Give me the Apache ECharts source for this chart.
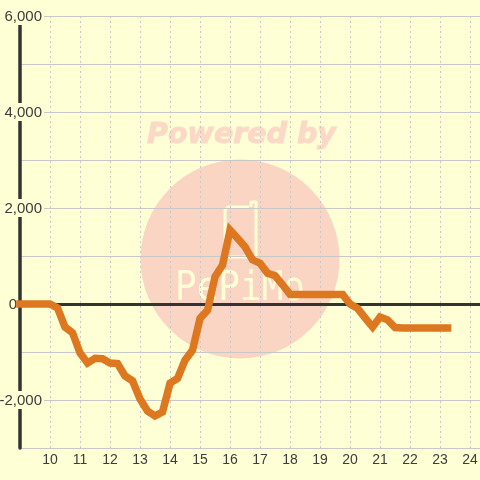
<!DOCTYPE html>
<html><head><meta charset="utf-8">
<style>html,body{margin:0;padding:0;background:#ffffd5}#c{width:480px;height:480px}</style>
<script src="https://cdn.jsdelivr.net/npm/echarts@6/dist/echarts.min.js"></script>
</head><body><div id="c"></div>
<script>
const xValues = [9,9.25,9.5,9.75,10,10.25,10.5,10.75,11,11.25,11.5,11.75,12,12.25,12.5,12.75,13,13.25,13.5,13.75,14,14.25,14.5,14.75,15,15.25,15.5,15.75,16,16.25,16.5,16.75,17,17.25,17.5,17.75,18,18.25,18.5,18.75,19,19.25,19.5,19.75,20,20.25,20.5,20.75,21,21.25,21.5,21.75,22,22.25,22.5,22.75,23,23.25];
const yValues = [0,0,0,0,0,-80,-480,-600,-1020,-1230,-1130,-1140,-1230,-1240,-1500,-1600,-1980,-2230,-2330,-2250,-1650,-1550,-1170,-960,-300,-130,570,810,1540,1370,1190,920,850,640,590,400,200,200,200,200,200,200,200,200,0,-90,-290,-480,-270,-330,-490,-500,-500,-500,-500,-500,-500,-500];
const yLabelled = [-2000,0,2000,4000,6000];
const watermarkTitle = 'Powered by';
const watermarkName = 'PePiMo';

const bg = '#ffffd5', dark = '#333333', text = '#3c3c3c', grid = '#c8c8c8', orange = '#dd7820';
const chart = echarts.init(document.getElementById('c'), null, {renderer:'canvas'});
chart.setOption({
  animation:false,
  backgroundColor:bg,
  grid:{left:20,right:0,top:16,bottom:32,containLabel:false,outerBoundsMode:'none'},
  graphic:[
    {type:'circle',z:-10,shape:{cx:240,cy:259,r:99.5},style:{fill:'#fbd5c3'}},
    {type:'text',z:-9,x:241.5,y:136,style:{text:watermarkTitle,fill:'#fcd9c6',stroke:'#fcd9c6',lineWidth:1,font:'italic bold 28.5px "DejaVu Sans"',align:'center',verticalAlign:'middle'}},
    {type:'polyline',z:-9,shape:{points:[[249,207],[228,207],[225,210],[225,257],[256,257],[256,202],[251,202],[251,207]]},style:{fill:null,stroke:bg,lineWidth:3,lineJoin:'round'}},
    {type:'text',z:-9,x:240,y:289,scaleY:1.15,silent:true,style:{text:watermarkName,fill:bg,font:'36px "DejaVu Sans Mono"',align:'center',verticalAlign:'middle'}}
  ],
  xAxis:[{
    type:'value',min:9,max:24.33,interval:1,position:'bottom',
    axisLine:{show:false,onZero:false},axisTick:{show:false},
    axisLabel:{color:text,fontFamily:'Liberation Sans',fontSize:14,margin:5,showMinLabel:false,showMaxLabel:false,
      formatter:v=>Number.isInteger(v)&&v>9?String(v):''},
    splitLine:{show:true,showMinLine:false,showMaxLine:false,lineStyle:{color:grid,width:1,type:[2,3]}}
  },{
    type:'value',min:9,max:24.33,interval:1,
    axisLine:{show:true,onZero:true,lineStyle:{color:dark,width:3}},axisTick:{show:false},
    axisLabel:{show:false},splitLine:{show:false}
  }],
  yAxis:{
    type:'value',min:-3000,max:6000,interval:1000,
    axisLine:{show:true,lineStyle:{color:dark,width:3.5}},axisTick:{show:false},
    splitLine:{show:true,lineStyle:{color:grid,width:1}},
    axisLabel:{show:true,margin:-24,align:'right',showMinLabel:true,showMaxLabel:true,
      formatter:v=>{
        if(!yLabelled.includes(v)) return '';
        const t=v.toLocaleString('en-US');
        return v===0?'{z|'+t+'}':'{a|'+t+'}';
      },
      rich:{
        a:{color:text,fontFamily:'Liberation Sans',fontSize:15,backgroundColor:bg,height:16,lineHeight:16,padding:[2,2,0,0]},
        z:{color:text,fontFamily:'Liberation Sans',fontSize:15,height:16,lineHeight:16,padding:[2,27,0,0]}
      }
    }
  },
  series:[{
    type:'line',xAxisIndex:0,data:xValues.map((x,i)=>[x,yValues[i]]),
    showSymbol:false,symbol:'none',smooth:false,clip:false,z:5,
    lineStyle:{color:orange,width:7.5,cap:'square',join:'miter',miterLimit:10}
  }]
});
</script></body></html>
